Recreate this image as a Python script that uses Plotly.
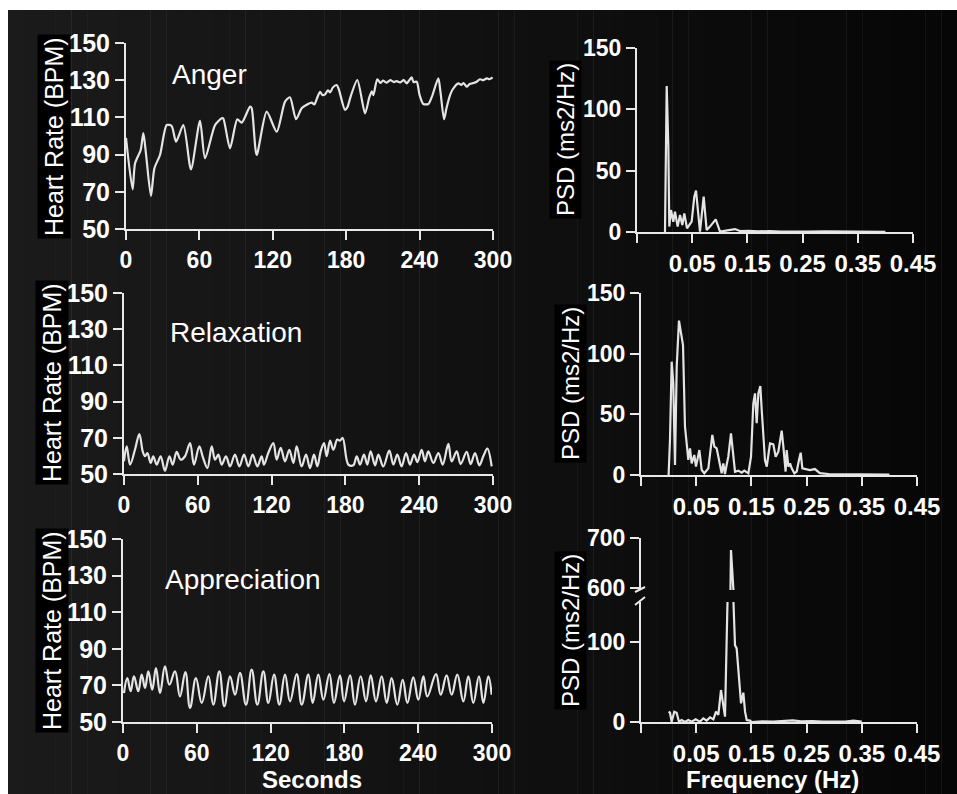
import plotly.graph_objects as go

W, H = 957, 794

# ---------------- data ----------------
anger_t = [0, 5.4, 7.4, 12, 14.2, 16.3, 20.4, 23.2, 27.8, 33.3, 37.3, 40.9, 46.9, 53.1, 60.5, 64.6,
           72.8, 78.2, 79.5, 85, 91, 94.6, 101.4, 102.7, 106.8, 115, 123.2, 130, 134, 139, 143.6,
           147, 151.8, 154, 156, 158.6, 160.5, 162.7, 165, 167, 169, 172.2, 174, 179, 181, 184,
           189.1, 195.4, 199, 201, 202.2, 205.4, 208, 210, 213.1, 216, 219, 221.3, 224, 227, 229.5,
           231, 233.5, 235, 237.6, 240, 243, 247.1, 250, 255.3, 257, 260, 262, 264.9, 267, 271.7,
           274, 276, 278.5, 281, 284, 286.7, 289.4, 292, 295, 297, 299.7]
anger_hr = [99, 71.3, 85.3, 92.5, 101.5, 90.7, 67.7, 82.6, 89.8, 105.9, 105.4, 97, 105.9, 82.1, 108.2, 88,
            105.9, 109.5, 109.5, 93.4, 109, 107.2, 115.8, 115, 89.8, 113.1, 102.3, 118.5, 120.8, 109, 114.9,
            116.5, 117.9, 117, 120, 123.8, 122, 122.4, 124.5, 123.5, 126, 127.4, 125, 114, 115.5, 122,
            130.1, 112.2, 121, 124, 122, 130.5, 128.5, 129.8, 128.7, 130, 129, 129.5, 128.8, 130, 128.3,
            129.5, 131.5, 129, 129.2, 122, 117.2, 117.2, 121, 131, 124, 109, 115, 122, 125, 128.3,
            127.5, 128.5, 126.5, 128, 128.5, 129.2, 130.5, 130, 131, 130.5, 131.5]

relax_t = [0, 2.2, 4.9, 8.9, 12.5, 15.2, 17.1, 19, 21.7, 23.8, 26.6, 29.8, 33.3, 36.9, 39.6, 42.8,
           46.1, 49.6, 53.7, 56.9, 61.2, 63.9, 67.8, 71.3, 74, 76.7, 79.4, 82.9, 86.2, 90.2, 93.8,
           97.6, 101.1, 104.6, 108.4, 111.9, 113.8, 117.3, 121.4, 124.1, 127.4, 130.9, 134.4, 137.7,
           140.4, 144.4, 148, 151.2, 154.5, 157.2, 159.9, 162.6, 164.8, 167.5, 170.2, 173.4, 175.6,
           177.8, 182.4, 186.4, 189.2, 191.9, 195.1, 197.8, 200.5, 204.1, 206.8, 210.8, 215.7, 219,
           222.2, 225.7, 229.3, 232.5, 235.8, 238.5, 242, 244.7, 247.4, 251.5, 255.6, 259.1, 263.7,
           266.4, 270.5, 273.7, 278.6, 281.8, 285.4, 288.9, 292.1, 295.4, 298.9]
relax_hr = [57, 65.3, 55.2, 63.4, 72.1, 62.5, 59.8, 61.6, 56.1, 59.8, 55.2, 59.8, 51.8, 59.8, 55.2, 62.2,
            57.9, 59.8, 67.1, 55.2, 65.3, 59.8, 53.3, 65.3, 57.9, 60.7, 55.2, 59.8, 54.2, 60.7, 54.2,
            60.7, 54.2, 60.7, 54.2, 59.8, 55.2, 61.6, 67.1, 57.9, 64.4, 57, 63.4, 56.1,
            65.3, 54.2, 60.7, 53.3, 60.7, 54.2, 62.5, 67.1, 59.8, 68.4, 63.4, 69, 68.4,
            69.9, 55.2, 54.8, 59.8, 55.2, 60.7, 55.2, 62.5, 54.8, 60.7, 54.2, 62.9, 55.2,
            60.7, 54.2, 61.6, 55.2, 60.7, 56.6, 63.4, 57, 62.5, 56.1, 61.6, 55.2, 66.6,
            57, 62.5, 55.5, 62.2, 55.5, 61.6, 54.8, 59.8, 64, 54.2]

appr_t = [0.8, 3.5, 6.2, 8.9, 12.4, 15.2, 17.9, 20.6, 23.8, 26.8, 30.1, 34.1, 37.7, 42.3, 46.3, 50.7,
          54.5, 59.3, 64, 69.4, 73.4, 78.3, 82.4, 87, 91.1, 95.1, 100, 104.6, 109.2, 114.1, 118.2,
          122.8, 127.1, 131.7, 135.8, 141.2, 145.3, 150.7, 154.2, 158.8, 162.9, 167.8, 171.5, 176.4,
          179.7, 184.6, 188.6, 193.2, 197.6, 201.4, 205.7, 210.3, 214.4, 218.4, 223, 227.4, 231.2,
          236, 240.1, 244.2, 247.4, 254.5, 258.3, 263.1, 267.2, 271.8, 276.7, 280.8, 284.8, 289.4,
          293, 297, 299.7]
appr_hr = [65.8, 74, 66.8, 75, 66.8, 75.9, 68.6, 77.7, 67.7, 79.5, 65.8, 80.4, 70.4, 77.7, 64, 77.3,
           57.7, 74, 60.4, 75, 59.5, 77.7, 58.6, 75, 64.9, 76.8, 59.5, 78.6, 59.5, 77.7, 60.4,
           75.9, 59.5, 75.9, 61.3, 76.2, 59.5, 75.9, 60.4, 75.9, 62.2, 76.2, 60.4, 75.5,
           61.3, 75.5, 59.5, 75, 61.3, 75.5, 61.3, 75, 60.4, 74, 59.5, 73.1, 60.4,
           74.4, 62.2, 75, 64, 76.2, 64.9, 75.5, 64.9, 75.9, 61.3, 75, 60.4, 75,
           60.4, 75, 64.9]

anger_f = [0.0007, 0.002, 0.0038, 0.0068, 0.0085, 0.0116, 0.0158, 0.0188, 0.0236, 0.0279, 0.0321,
           0.0357, 0.0406, 0.049, 0.0538, 0.0569, 0.061, 0.0641, 0.0708, 0.0762, 0.0822, 0.0926,
           0.1004, 0.1094, 0.1275, 0.1366, 0.1516, 0.17, 0.19, 0.21, 0.23, 0.26, 0.29, 0.32, 0.35,
           0.38, 0.40]
anger_psd = [0, 69.6, 119, 69.5, 4.4, 17.9, 8.4, 16.6, 4.4, 13.9, 5.7,
             15.2, 3, 8.4, 28.8, 33.7, 15.2, 0.3, 28.8, 1.6, 4.4, 10.3,
             0.3, 1, 2.4, 0.8, 1, 0.5, 0.8, 0.4, 0.6, 0.3, 0.5, 0.3, 0.5,
             0.3, 0.2]

relax_f = [0.0, 0.0025, 0.0056, 0.0085, 0.0116, 0.0147, 0.0188, 0.0225, 0.0261, 0.0297, 0.0328,
           0.0357, 0.0388, 0.0418, 0.0466, 0.0496, 0.0557, 0.06, 0.0647, 0.072, 0.0792, 0.0829,
           0.0871, 0.0931, 0.0961, 0.0991, 0.1021, 0.1051, 0.1082, 0.113, 0.1172, 0.1203, 0.1264,
           0.1324, 0.1372, 0.1445, 0.1493, 0.1535, 0.1565, 0.1596, 0.1626, 0.1662, 0.1687, 0.1716,
           0.1746, 0.1778, 0.1807, 0.1837, 0.1897, 0.194, 0.1988, 0.2049, 0.2079, 0.212, 0.2139,
           0.217, 0.22, 0.223, 0.2279, 0.232, 0.2362, 0.2393, 0.2423, 0.256, 0.265, 0.274, 0.29,
           0.31, 0.33, 0.35, 0.37, 0.39, 0.40]
relax_psd = [0, 28.8, 93.4, 75.6, 8.2, 89.3, 127.2, 116.8, 107.1, 39.8, 22,
             12.4, 22, 9.6, 16.5, 6.9, 20.6, 4.1, 1.4, 5.5, 33, 23.4,
             22, 6.9, 1.4, 9.6, 0.8, 8.2, 15.1, 34.3, 17.9, 2.7, 3.6,
             1.9, 3.6, 1.4, 15.1, 59.1, 67.3, 42.6, 67.3, 73.4, 53.6, 28.8,
             12.4, 6.9, 17.9, 26.1, 25.3, 15.1, 19.2, 36.5, 23.4, 2.7, 20.6,
             6.9, 9.6, 5.5, 1.4, 2.7, 12.4, 18.4, 5.5, 4.1, 4.9, 1.5, 0.8,
             0.6, 0.8, 0.5, 0.6, 0.4, 0.3]

appr_f = [0.0, 0.0025, 0.0056, 0.0103, 0.0145, 0.0188, 0.0236, 0.0297, 0.0357, 0.0418, 0.049,
          0.0569, 0.0629, 0.069, 0.075, 0.0811, 0.0859, 0.0901, 0.0949, 0.0992, 0.1022, 0.107,
          0.1125, 0.113, 0.1135, 0.117, 0.1203, 0.1233, 0.1263, 0.1312, 0.1354, 0.1385, 0.1415,
          0.1475, 0.1505, 0.17, 0.19, 0.21, 0.225, 0.24, 0.26, 0.28, 0.30, 0.32, 0.335, 0.35]
appr_psd = [12.9, 11.6, 0.4, 12.9, 11.6, 0.4, 2.5, 0, 2.5, 0.4, 3.3,
            0.4, 4.6, 1.7, 5.8, 3.3, 12.9, 8.8, 40, 23.3, 6.7, 160,
            580, 676, 580, 160, 96, 92, 69, 23.3, 36.7, 12.9, 2.5,
            1.7, 0, 0.8, 0.5, 1.5, 2, 0.8, 1.2, 0.4, 0.6, 0.5, 1.8, 0.6]

hr_ticks = [50, 70, 90, 110, 130, 150]
sec_ticks = [0, 60, 120, 180, 240, 300]
freq_ticks = [-0.05, 0.05, 0.15, 0.25, 0.35, 0.45]
freq_labels = ["", "0.05", "0.15", "0.25", "0.35", "0.45"]
psd_ticks = [0, 50, 100, 150]
psd_low_ticks = [0, 100]
psd_high_ticks = [600, 700]
emotions = ["Anger", "Relaxation", "Appreciation"]

# ---------------- helpers ----------------
def fx(p):
    return p / W

def fy(p):
    return 1 - p / H

FONT = "Liberation Sans, Arial, sans-serif"
AX = "#e8e8e8"
LINE = "#e4e4e4"

def axis_common(tsize):
    return dict(showline=True, linecolor=AX, linewidth=2, ticks="outside", ticklen=9,
                tickwidth=2, tickcolor=AX, showgrid=False, zeroline=False, automargin=False,
                tickfont=dict(family=FONT, size=tsize, color="white", weight="bold"))

fig = go.Figure()

def add(x, y, xa, ya, shape="linear", smooth=0.7):
    fig.add_trace(go.Scatter(x=x, y=y, mode="lines", xaxis=xa, yaxis=ya,
                             line=dict(color=LINE, width=2.2, shape=shape, smoothing=smooth),
                             showlegend=False, hoverinfo="skip"))

add(anger_t, anger_hr, "x", "y", "spline", 0.7)
add(anger_f, anger_psd, "x2", "y2")
add(relax_t, relax_hr, "x3", "y3", "spline", 1.0)
add(relax_f, relax_psd, "x4", "y4")
add(appr_t, appr_hr, "x5", "y5", "spline", 1.2)
add(appr_f, appr_psd, "x6", "y6")
add(appr_f, appr_psd, "x6", "y7")

layout = dict(width=W, height=H, margin=dict(l=0, r=0, t=0, b=0, pad=0), autosize=False,
              paper_bgcolor="white", plot_bgcolor="rgba(0,0,0,0)", showlegend=False)

# left (time) panels
left = [(126, 493, 43, 229), (124, 493, 293, 474), (123, 492, 539, 722)]
for i, (x0, x1, y0, y1) in enumerate(left):
    n = 2 * i + 1
    xs = "" if n == 1 else str(n)
    xa = axis_common(23)
    xa.update(domain=[fx(x0), fx(x1)], range=[0, 300], tickvals=sec_ticks,
              anchor="y" + xs)
    ya = axis_common(25)
    ya.update(domain=[fy(y1), fy(y0)], range=[50, 150], tickvals=hr_ticks,
              anchor="x" + xs)
    layout["xaxis" + xs] = xa
    layout["yaxis" + xs] = ya

# right (spectrum) panels
right = [(637, 913, 48, 232), (641, 917, 293, 475)]
for i, (x0, x1, y0, y1) in enumerate(right):
    n = str(2 * i + 2)
    xa = axis_common(24)
    xa.update(domain=[fx(x0), fx(x1)], range=[-0.05, 0.45], tickvals=freq_ticks,
              ticktext=freq_labels, anchor="y" + n)
    ya = axis_common(23)
    ya.update(domain=[fy(y1), fy(y0)], range=[0, 150], tickvals=psd_ticks, anchor="x" + n)
    layout["xaxis" + n] = xa
    layout["yaxis" + n] = ya

xa = axis_common(24)
xa.update(domain=[fx(641), fx(917)], range=[-0.05, 0.45], tickvals=freq_ticks,
          ticktext=freq_labels, anchor="y6")
layout["xaxis6"] = xa
ya = axis_common(23)
ya.update(domain=[fy(722), fy(602)], range=[0, 150], tickvals=psd_low_ticks, anchor="x6")
layout["yaxis6"] = ya
ya = axis_common(23)
ya.update(domain=[fy(590), fy(538)], range=[596, 700], tickvals=psd_high_ticks, anchor="x6")
layout["yaxis7"] = ya

fig.update_layout(**layout)

# background gradient (dark panel)
shapes = []
N = 60
xl, xr = 8, W
for k in range(N):
    a = xl + (xr - xl) * k / N
    b = xl + (xr - xl) * (k + 1) / N + 0.5
    t = (k + 0.5) / N
    c = int(round(27 - 21 * t))
    shapes.append(dict(type="rect", xref="paper", yref="paper", x0=fx(a), x1=fx(min(b, W)),
                       y0=0, y1=fy(10), fillcolor=f"rgb({c},{c},{c})", line=dict(width=0),
                       layer="below"))
# axis break marks
for (a0, b0, a1, b1) in [(635, 592, 645, 587), (635, 605, 645, 597)]:
    shapes.append(dict(type="line", xref="paper", yref="paper", x0=fx(a0), y0=fy(b0),
                       x1=fx(a1), y1=fy(b1), line=dict(color=AX, width=2)))
fig.update_layout(shapes=shapes)

ann = []
def ytitle(text, cx, cy, size):
    ann.append(dict(text=text, x=fx(cx), y=fy(cy), xref="paper", yref="paper",
                    showarrow=False, textangle=-90, bgcolor="black", borderpad=2,
                    xanchor="center", yanchor="middle",
                    font=dict(family=FONT, size=size, color="white")))

for cx, cy in [(54, 137), (52, 383), (52, 631)]:
    ytitle("Heart Rate (BPM)", cx, cy, 25)
for cx, cy in [(566, 140), (570, 384), (570, 631)]:
    ytitle("PSD (ms2/Hz)", cx, cy, 24)

for name, (lx, ly) in zip(emotions, [(170, 75), (168, 332), (163, 579)]):
    ann.append(dict(text=name, x=fx(lx), y=fy(ly), xref="paper", yref="paper",
                    showarrow=False, xanchor="left", yanchor="middle",
                    font=dict(family=FONT, size=28, color="white")))

ann.append(dict(text="Seconds", x=fx(312), y=fy(779), xref="paper", yref="paper",
                showarrow=False, xanchor="center", yanchor="middle",
                font=dict(family=FONT, size=24, color="white", weight="bold")))
ann.append(dict(text="Frequency (Hz)", x=fx(772), y=fy(779), xref="paper", yref="paper",
                showarrow=False, xanchor="center", yanchor="middle",
                font=dict(family=FONT, size=24, color="white", weight="bold")))
fig.update_layout(annotations=ann)

fig.write_html("out.html", config={"displayModeBar": False},
               post_script="document.body.style.margin='0';document.body.style.overflow='hidden';")
